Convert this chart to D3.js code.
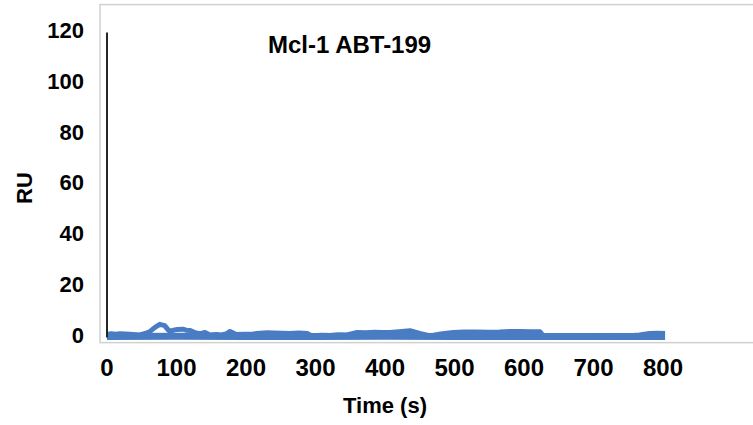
<!DOCTYPE html>
<html>
<head>
<meta charset="utf-8">
<script src="https://cdn.jsdelivr.net/npm/d3@7"></script>
<style>
  html, body { margin: 0; padding: 0; background: #fff; }
  svg { display: block; font-family: "Liberation Sans", Arial, sans-serif; font-weight: bold; }
</style>
</head>
<body>
<div id="chart"></div>
<script>
// --- data ---
const chartTitle = 'Mcl-1 ABT-199';
const xTicks = [0, 100, 200, 300, 400, 500, 600, 700, 800];
const yTicks = [0, 20, 40, 60, 80, 100, 120];

// injection spike at t = 0
const spikeTime = [0, 0];
const spikeRU = [-1, 119];

// upper trace of the sensorgram
const upperTime = [0, 6, 12, 19, 26, 33, 38, 47, 55, 62, 69, 76, 83, 88, 91, 96, 101, 109, 114, 119, 128, 134, 141, 148, 157, 165, 172, 177, 186, 198, 210, 220, 231, 240, 252, 263, 276, 288, 295, 308, 321, 333, 345, 360, 372, 385, 396, 407, 420, 436, 450, 465, 480, 498, 514, 530, 547, 565, 580, 595, 610, 623, 627, 645, 666, 680, 695, 710, 720, 736, 752, 766, 781, 792, 803];
const upperRU = [0.2, 0.5, 0.3, 0.5, 0.4, 0.3, 0.2, 0.0, 0.6, 1.4, 3.0, 4.2, 3.7, 2.0, 1.4, 1.9, 2.2, 2.3, 1.9, 1.8, 0.8, 0.5, 1.0, 0.0, 0.2, 0.0, 0.5, 1.4, 0.2, 0.3, 0.4, 0.7, 0.9, 0.8, 0.7, 0.6, 0.8, 0.6, -0.4, -0.1, -0.2, 0.1, 0.0, 1.0, 0.9, 1.1, 1.0, 1.0, 1.3, 1.7, 0.6, -0.4, 0.4, 1.0, 1.2, 1.2, 1.1, 1.2, 1.4, 1.4, 1.3, 1.3, -0.1, -0.2, -0.4, -0.6, -1.0, -0.7, -0.6, -0.5, -0.3, 0.0, 0.6, 0.7, 0.6];

// lower trace of the sensorgram
const lowerTime = [0, 100, 200, 300, 400, 500, 600, 700, 803];
const lowerRU = [-0.6, -0.5, -0.6, -0.6, -0.5, -0.6, -0.6, -0.6, -0.6];

// --- layout ---
const W = 753, H = 425;
const svg = d3.select('#chart').append('svg')
    .attr('width', W)
    .attr('height', H);

const x = d3.scaleLinear().domain([0, 800]).range([107, 663]);
const y = d3.scaleLinear().domain([0, 120]).range([335, 30]);

// plot frame (runs off the right edge like the reference)
svg.append('rect')
    .attr('x', x(-10))
    .attr('y', y(130))
    .attr('width', x(950) - x(-10))
    .attr('height', y(-3) - y(130))
    .attr('fill', 'none')
    .attr('stroke', '#d0d0d0')
    .attr('stroke-width', 1.5);

const line = d3.line()
    .x(d => x(d[0]))
    .y(d => y(d[1]));

const zip = (a, b) => a.map((v, i) => [v, b[i]]);

const blue = '#4A7CC4';

// blue sensorgram traces
svg.append('path')
    .datum(zip(lowerTime, lowerRU))
    .attr('d', line)
    .attr('fill', 'none')
    .attr('stroke', blue)
    .attr('stroke-width', 7)
    .attr('stroke-linejoin', 'round');

svg.append('path')
    .datum(zip(upperTime, upperRU))
    .attr('d', line)
    .attr('fill', 'none')
    .attr('stroke', blue)
    .attr('stroke-width', 5)
    .attr('stroke-linejoin', 'round');

// injection spike
svg.append('path')
    .datum(zip(spikeTime, spikeRU))
    .attr('d', line)
    .attr('fill', 'none')
    .attr('stroke', '#262626')
    .attr('stroke-width', 2);

// y tick labels
svg.append('g')
    .selectAll('text')
    .data(yTicks)
    .join('text')
    .attr('x', 84)
    .attr('y', d => y(d))
    .attr('dy', '0.36em')
    .attr('text-anchor', 'end')
    .attr('font-size', '22px')
    .attr('fill', '#000')
    .text(d => d);

// x tick labels
svg.append('g')
    .selectAll('text')
    .data(xTicks)
    .join('text')
    .attr('x', d => x(d))
    .attr('y', 376)
    .attr('text-anchor', 'middle')
    .attr('font-size', '24px')
    .attr('fill', '#000')
    .text(d => d);

// titles
svg.append('text')
    .attr('x', 268)
    .attr('y', 53)
    .attr('font-size', '24px')
    .attr('fill', '#000')
    .text(chartTitle);

svg.append('text')
    .attr('x', 385)
    .attr('y', 413)
    .attr('text-anchor', 'middle')
    .attr('font-size', '22px')
    .attr('fill', '#000')
    .text('Time (s)');

svg.append('text')
    .attr('transform', 'translate(32,188) rotate(-90)')
    .attr('text-anchor', 'middle')
    .attr('font-size', '22px')
    .attr('fill', '#000')
    .text('RU');
</script>
</body>
</html>
